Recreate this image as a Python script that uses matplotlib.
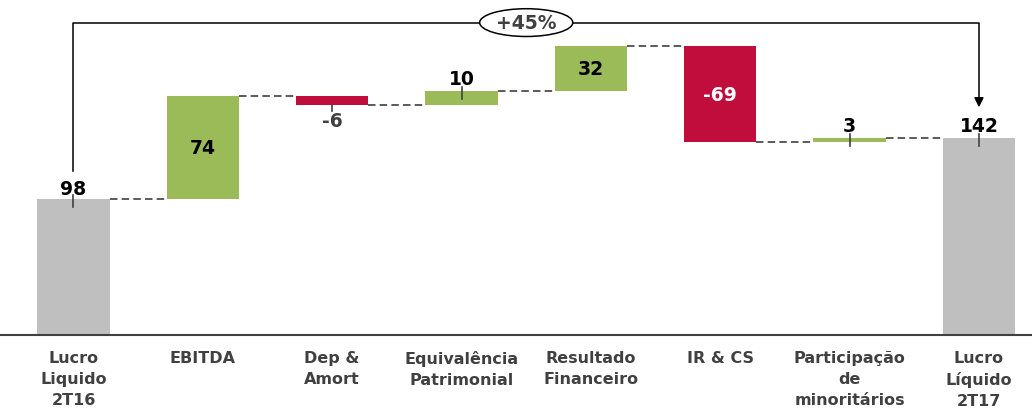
import matplotlib
matplotlib.use("Agg")
import matplotlib.pyplot as plt
from matplotlib.patches import Ellipse
import numpy as np

categories = ["Lucro\nLiquido\n2T16", "EBITDA", "Dep &\nAmort", "Equivalência\nPatrimonial",
              "Resultado\nFinanceiro", "IR & CS", "Participação\nde\nminoritários", "Lucro\nLíquido\n2T17"]
values = [98, 74, -6, 10, 32, -69, 3, 142]
is_total = [True, False, False, False, False, False, False, True]
growth_label = "+45%"

GREEN = "#9BBB59"
RED = "#C00D3C"
GRAY = "#BFBFBF"
DARK = "#404040"

fig = plt.figure(figsize=(10.32, 4.10), dpi=100)
ax = fig.add_axes([0, 74/410, 1, 1 - 74/410])
ax.set_xlim(-0.568, 7.41)
ax.set_ylim(0, 242)
ax.axis("off")

width = 0.56
x = np.arange(len(values))
running = 0
tops = []
bottoms = []
levels = []
for i, (v, tot) in enumerate(zip(values, is_total)):
    if tot:
        bottom, height = 0, v
        color = GRAY
        running = v
    else:
        if v >= 0:
            bottom, height = running, v
            color = GREEN
        else:
            bottom, height = running + v, -v
            color = RED
        running += v
    ax.bar(x[i], height, bottom=bottom, width=width, color=color, zorder=2)
    bottoms.append(bottom)
    tops.append(bottom + height)
    levels.append(running)

# connectors
for i in range(len(values) - 1):
    lvl = levels[i]
    ax.plot([x[i] + width/2, x[i+1] - width/2], [lvl, lvl], ls=(0, (4.5, 2.5)),
            color=DARK, lw=1.2, zorder=1)

# labels
FS = 13.5
for i, v in enumerate(values):
    top, bot = tops[i], bottoms[i]
    if is_total[i] or (0 <= v < 15):
        off = 7.5 if i == 0 else 9
        ax.text(x[i], top + off, f"{v}", ha="center", va="center", fontsize=FS,
                fontweight="bold", color="black")
        ax.plot([x[i], x[i]], [top + 2.5, top - 6], color=DARK, lw=1.2, zorder=3)
    elif v < 0 and -v < 15:
        ax.text(x[i], bot - 11.5, f"{v}", ha="center", va="center", fontsize=FS,
                fontweight="bold", color=DARK)
        ax.plot([x[i], x[i]], [bot, bot - 5], color=DARK, lw=1.2, zorder=3)
    else:
        ax.text(x[i], (top + bot) / 2, f"{v}", ha="center", va="center", fontsize=FS,
                fontweight="bold", color="white" if v < 0 else "black")

# baseline
ax.plot([-0.568, 7.41], [0, 0], color=DARK, lw=1.5, clip_on=False, zorder=3)

# category labels
for i, c in enumerate(categories):
    ax.text(x[i], -10.5, c, ha="center", va="top", fontsize=11.5, fontweight="bold",
            color=DARK, linespacing=1.5, family="DejaVu Sans")

# growth bracket
y_br = 225
ex, ew, eh = 3.50, 0.72, 20
ax.plot([0, 0, ex - ew/2], [118, y_br, y_br], color="black", lw=1.1, zorder=3)
ax.plot([ex + ew/2, 7, 7], [y_br, y_br, 171], color="black", lw=1.1, zorder=3)
ax.annotate("", xy=(7, 162), xytext=(7, 172),
            arrowprops=dict(arrowstyle="-|>", color="black", lw=1.1, mutation_scale=14))
ax.add_patch(Ellipse((ex, y_br), ew, eh, facecolor="white", edgecolor="black", lw=1.1, zorder=4))
ax.text(ex, y_br, growth_label, ha="center", va="center", fontsize=FS,
        fontweight="bold", color=DARK, zorder=5)

fig.savefig("out.png", dpi=100)
